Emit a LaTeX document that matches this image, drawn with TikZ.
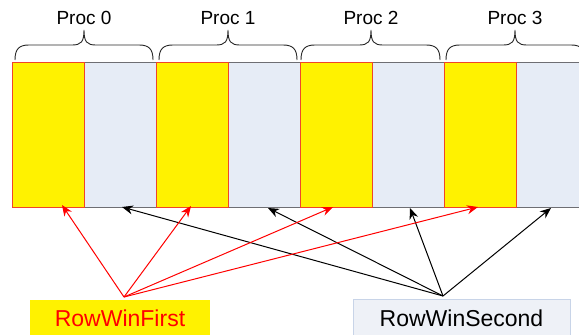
\documentclass[tikz,border=0pt]{standalone}
\usepackage{fontspec}
\setmainfont{Liberation Sans}
\usetikzlibrary{arrows.meta}
\definecolor{cellred}{RGB}{240,70,40}
\definecolor{cellgray}{RGB}{110,110,115}
\definecolor{cellfill}{RGB}{230,236,246}
\definecolor{boxfill}{RGB}{238,241,247}
\definecolor{boxline}{RGB}{200,212,232}
\definecolor{bracecol}{RGB}{40,40,40}
\begin{document}
\begin{tikzpicture}[x=1pt,y=-1pt,
  gcell/.style={draw=cellgray, fill=cellfill, line width=0.9pt, minimum width=72pt, minimum height=145pt, inner sep=0pt, anchor=north west},
  ycell/.style={draw=cellred, fill=yellow, line width=0.9pt, minimum width=72pt, minimum height=145pt, inner sep=0pt, anchor=north west},
  bracepath/.style={draw=bracecol, line width=0.9pt},
  proc/.style={font=\fontsize{19}{22}\selectfont, inner sep=0pt},
  rfbox/.style={fill=yellow, text=red, font=\fontsize{23}{26}\selectfont, minimum width=180pt, minimum height=36pt, inner sep=0pt},
  rsbox/.style={fill=boxfill, draw=boxline, line width=0.9pt, text=black, font=\fontsize{23}{26}\selectfont, minimum width=217pt, minimum height=38pt, inner sep=0pt},
  redarr/.style={draw=red, line width=1pt, -{Stealth[length=11pt,width=9pt]}},
  blkarr/.style={draw=black, line width=1pt, -{Stealth[length=11pt,width=9pt]}}
]
\useasboundingbox (0,0) rectangle (579,335);
\clip (0,0) rectangle (579,335);
\fill[white] (0,0) rectangle (579,335);
% cells
\foreach \i in {0,...,3} { \node[gcell] (g\i) at ({12+144*\i+72},62) {}; }
\foreach \i in {0,...,3} { \node[ycell] (y\i) at ({12+144*\i},62) {}; }
% braces and labels
\foreach \xa/\xm/\xb/\t in {15/84/153/0, 159/228/297/1, 301/371/440/2, 446/515/585/3} {
  \draw[bracepath] (\xa,60) .. controls (\xa,49) and (\xa+4,45) .. (\xa+14,45) -- (\xm-12,45) .. controls (\xm-3,45) and (\xm,42) .. (\xm,30) .. controls (\xm,42) and (\xm+3,45) .. (\xm+12,45) -- (\xb-14,45) .. controls (\xb-4,45) and (\xb,49) .. (\xb,60);
  \node[proc] (p\t) at (\xm,18) {Proc \t};
}
% label boxes
\node[rfbox] (rf) at (120,318) {RowWinFirst};
\node[rsbox] (rs) at (461.5,318) {RowWinSecond};
% arrow origins and targets
\coordinate (rfo) at (124,297);
\coordinate (rso) at (443,296);
\coordinate (t0) at (62,205);
\coordinate (t1) at (191,206);
\coordinate (t2) at (333,207);
\coordinate (t3) at (478,207);
\coordinate (s0) at (122,207);
\coordinate (s1) at (268,208);
\coordinate (s2) at (410,208);
\coordinate (s3) at (551,208);
\foreach \k in {0,...,3} { \draw[blkarr] (rso) -- (s\k); }
\foreach \k in {0,...,3} { \draw[redarr] (rfo) -- (t\k); }
\end{tikzpicture}
\end{document}
